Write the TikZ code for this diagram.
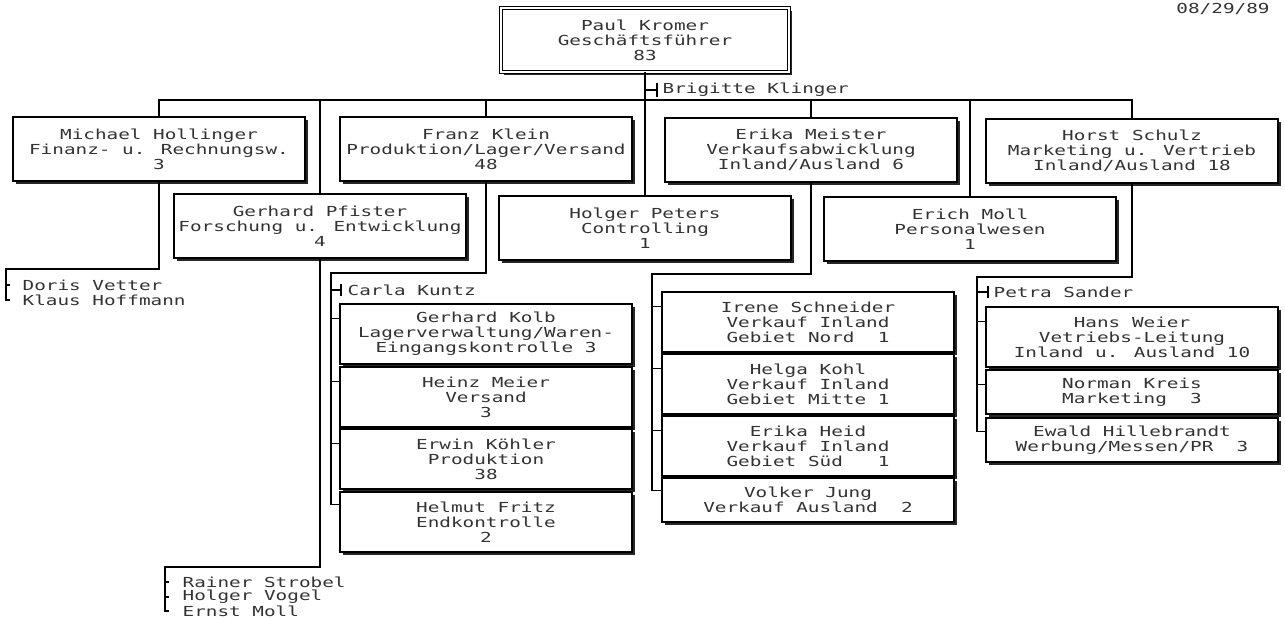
\documentclass[tikz,border=0pt]{standalone}
\usepackage{fontspec}
\newfontfamily\dotfont[FakeStretch=1.4]{DejaVu Sans Mono}
\usetikzlibrary{calc,shadows}
\newcommand{\chartfont}{\dotfont\fontsize{6.9pt}{7.45pt}\selectfont}

\begin{document}
\begin{tikzpicture}[x=0.5pt, y=-0.5pt, line width=0.7pt,
  box/.style={draw, fill=white, align=center, inner sep=0pt, font=\chartfont,
    text=black!80, minimum width=146pt, minimum height=30pt,
    drop shadow={shadow xshift=1.4pt, shadow yshift=-1.4pt, fill=black!85, opacity=1}},
  tall/.style={minimum height=32pt},
  short/.style={minimum height=22pt},
  staff/.style={anchor=west, inner sep=0pt, font=\chartfont, text=black!80}]
  \useasboundingbox (0,0) rectangle (1285,619);

  \node[box, tall, minimum width=144pt, double, double distance=1.4pt, line width=0.5pt]
    (kromer) at (645,40) {Paul Kromer\\Geschäftsführer\\83};
  \node[staff, anchor=center] (datum) at (1223,9) {08/29/89};

  % erste Reihe
  \node[box, tall] (hollinger) at (159,149) {Michael Hollinger\\Finanz- u. Rechnungsw.\\3};
  \node[box, tall] (klein)     at (486,149) {Franz Klein\\Produktion/Lager/Versand\\48};
  \node[box, tall] (meister)   at (811,150) {Erika Meister\\Verkaufsabwicklung\\Inland/Ausland 6};
  \node[box, tall] (schulz)    at (1132,151) {Horst Schulz\\Marketing u. Vertrieb\\Inland/Ausland 18};

  % zweite Reihe
  \node[box, tall] (pfister) at (320,226) {Gerhard Pfister\\Forschung u. Entwicklung\\4};
  \node[box, tall] (peters)  at (645,228) {Holger Peters\\Controlling\\1};
  \node[box, tall] (moll)    at (970,229) {Erich Moll\\Personalwesen\\1};

  % Produktion
  \node[box] (kolb)    at (486,334) {Gerhard Kolb\\Lagerverwaltung/Waren-\\Eingangskontrolle 3};
  \node[box] (meier)   at (486,397) {Heinz Meier\\Versand\\3};
  \node[box] (koehler) at (486,459) {Erwin Köhler\\Produktion\\38};
  \node[box] (fritz)   at (486,522) {Helmut Fritz\\Endkontrolle\\2};

  % Verkauf
  \node[box] (schneider) at (808,322) {Irene Schneider\\Verkauf Inland\\Gebiet Nord~~1};
  \node[box] (kohl)      at (808,384) {Helga Kohl\\Verkauf Inland\\Gebiet Mitte 1};
  \node[box] (heid)      at (808,446) {Erika Heid\\Verkauf Inland\\Gebiet Süd~~~1};
  \node[box, short] (jung) at (808,500) {Volker Jung\\Verkauf Ausland~~2};

  % Marketing
  \node[box] (weier) at (1132,337) {Hans Weier\\Vetriebs-Leitung\\Inland u. Ausland 10};
  \node[box, short] (kreis) at (1132,392) {Norman Kreis\\Marketing~~3};
  \node[box, short] (hillebrandt) at (1132,440) {Ewald Hillebrandt\\Werbung/Messen/PR~~3};

  % Hauptlinie
  \coordinate (bus) at (645,100);
  \draw (kromer.south) -- (peters.north);
  \draw (hollinger.north) |- (bus) -| (schulz.north);
  \foreach \n in {pfister,klein,meister,moll}
    \draw (\n.north) -- (\n.north |- bus);
  \node[staff] (klinger) at (662,90) {Brigitte Klinger};
  \draw (kromer.south |- klinger.west) -- ++(12,0) ++(0,-7) -- ++(0,14);

  % Mitarbeiter ohne Box
  \coordinate (hcorner) at (6,269);
  \node[staff] (vetter)   at (22,285) {Doris Vetter};
  \node[staff] (hoffmann) at (22,300) {Klaus Hoffmann};
  \draw (hollinger.south) |- (hcorner) -- (hcorner |- hoffmann.west) -- ++(4,0);
  \draw (hcorner |- vetter.west) -- ++(4,0);

  \coordinate (pcorner) at (165,567);
  \node[staff] (strobel) at (182,582) {Rainer Strobel};
  \node[staff] (vogel)   at (182,597) {Holger Vogel};
  \node[staff] (emoll)   at (182,611) {Ernst Moll};
  \draw (pfister.south) |- (pcorner) -- (pcorner |- emoll.west) -- ++(4,0);
  \foreach \n in {strobel,vogel}
    \draw (pcorner |- \n.west) -- ++(4,0);

  % Klammern
  \coordinate (kcorner) at (331,273);
  \node[staff] (kuntz) at (347,290) {Carla Kuntz};
  \draw (klein.south) |- (kcorner) |- ($(fritz.north west)+(0,13)$);
  \draw (kcorner |- kuntz.west) -- ++(10,0) ++(0,-6) -- ++(0,12);
  \foreach \n in {kolb,meier,koehler} {
    \path ($(\n.north west)+(0,15)$) coordinate (t);
    \draw (kcorner |- t) -- (t);
  }

  \coordinate (mcorner) at (652,274);
  \draw (meister.south) |- (mcorner) |- ($(jung.north west)+(0,13)$);
  \foreach \n in {schneider,kohl,heid} {
    \path ($(\n.north west)+(0,15)$) coordinate (t);
    \draw (mcorner |- t) -- (t);
  }

  \coordinate (scorner) at (977,277);
  \node[staff] (sander) at (993,292) {Petra Sander};
  \draw (schulz.south) |- (scorner) |- ($(hillebrandt.north west)+(0,14)$);
  \draw (scorner |- sander.west) -- ++(11,0) ++(0,-6) -- ++(0,12);
  \foreach \n in {weier,kreis} {
    \path ($(\n.north west)+(0,15)$) coordinate (t);
    \draw (scorner |- t) -- (t);
  }
\end{tikzpicture}
\end{document}
